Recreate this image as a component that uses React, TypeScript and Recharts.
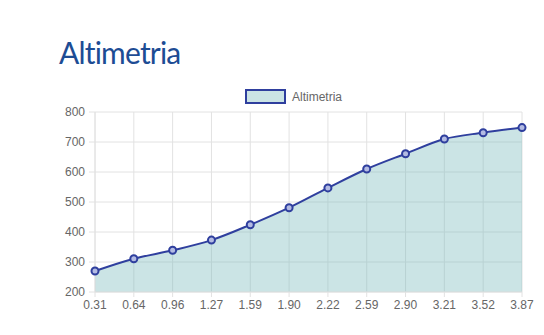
import React from 'react';
import { AreaChart, Area, XAxis, YAxis, CartesianGrid } from 'recharts';

const distances = ['0.31', '0.64', '0.96', '1.27', '1.59', '1.90', '2.22', '2.59', '2.90', '3.21', '3.52', '3.87'];
const altitudes = [270, 311, 339, 373, 424, 481, 547, 610, 661, 710, 731, 748];
const yTicks = [200, 300, 400, 500, 600, 700, 800];

const data = distances.map((km, i) => ({ km, altitude: altitudes[i] }));

const LINE = '#2f3f9e';
const FILL = '#7dbcbf';
const GRID = '#e2e2e2';

const App: React.FC = () => {
  return (
    <div style={{ position: 'absolute', left: 0, top: 0, width: 544, height: 335, background: '#fff' }}>
      <div
        style={{
          position: 'absolute',
          left: 59,
          top: 34,
          fontFamily: 'Lato, sans-serif',
          fontSize: 30,
          letterSpacing: -0.8,
          color: '#1d4c94',
          lineHeight: '36px',
        }}
      >
        Altimetria
      </div>
      <div
        style={{
          position: 'absolute',
          left: 245,
          top: 89,
          display: 'flex',
          alignItems: 'center',
          fontFamily: '"Liberation Sans", Arial, sans-serif',
          fontSize: 12,
          color: '#666',
        }}
      >
        <span
          style={{
            display: 'inline-block',
            width: 37,
            height: 11,
            background: '#cbe4e5',
            border: `2px solid ${LINE}`,
            marginRight: 6,
          }}
        />
        Altimetria
      </div>
      <AreaChart
        width={544}
        height={335}
        data={data}
        margin={{ top: 112, right: 22, bottom: 13, left: 55 }}
      >
        <CartesianGrid stroke={GRID} />
        <XAxis
          dataKey="km"
          interval={0}
          tickSize={5}
          tickMargin={3}
          axisLine={{ stroke: GRID }}
          tickLine={{ stroke: GRID }}
          tick={{ fill: '#666', fontSize: 12, fontFamily: '"Liberation Sans", Arial, sans-serif' }}
          height={30}
        />
        <YAxis
          domain={[200, 800]}
          ticks={yTicks}
          width={40}
          tickSize={6}
          tickMargin={4}
          axisLine={{ stroke: GRID }}
          tickLine={{ stroke: GRID }}
          tick={{ fill: '#666', fontSize: 12, fontFamily: '"Liberation Sans", Arial, sans-serif' }}
        />
        <Area
          type="monotone"
          dataKey="altitude"
          stroke={LINE}
          strokeWidth={2}
          fill={FILL}
          fillOpacity={0.4}
          dot={{ r: 3.5, stroke: LINE, strokeWidth: 2, fill: '#b3bbe3', fillOpacity: 1 }}
          activeDot={false}
          isAnimationActive={false}
        />
      </AreaChart>
    </div>
  );
};

export default App;
